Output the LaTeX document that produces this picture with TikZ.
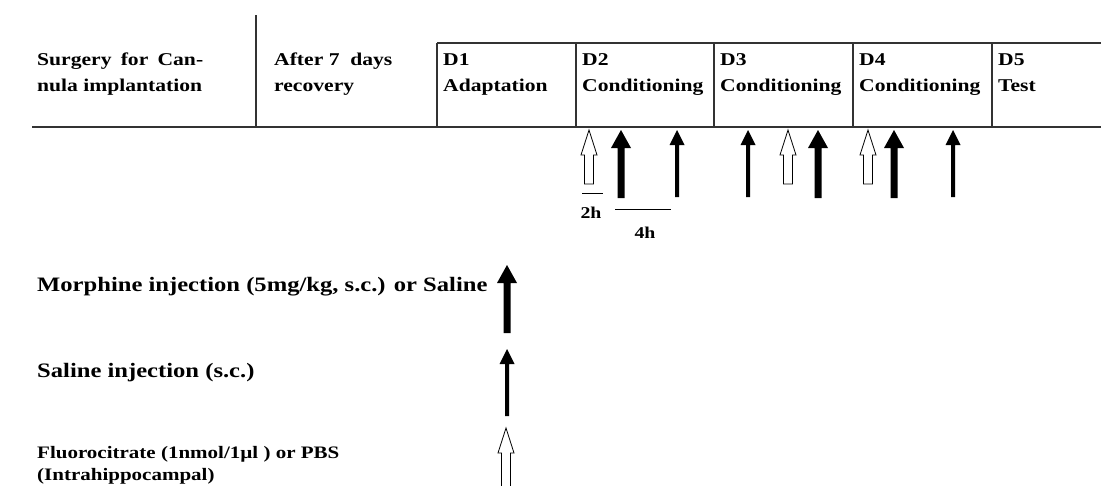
\documentclass[tikz,border=0pt]{standalone}
\usepackage{fontspec}
\setmainfont{Liberation Serif}[FakeStretch=1.2]
\begin{document}
\begin{tikzpicture}[x=1pt,y=-1pt,
  lbl/.style={inner sep=0pt, anchor=base west, font=\bfseries\fontsize{18}{21}\selectfont},
  big/.style={inner sep=0pt, anchor=base west, font=\bfseries\fontsize{20.5}{24}\selectfont},
  sml/.style={inner sep=0pt, anchor=base west, font=\bfseries\fontsize{17.5}{21}\selectfont},
  hl/.style={inner sep=0pt, anchor=base, font=\bfseries\fontsize{16.5}{20}\selectfont},
  rule/.style={line width=1.2pt, draw=black!80},
  tick/.style={line width=1pt, draw=black},
  thickarrow/.pic={\fill[black] (0,0) -- (10,18) -- (3.5,18) -- (3.5,68) -- (-3.5,68) -- (-3.5,18) -- (-10,18) -- cycle;},
  thinarrow/.pic={\fill[black] (0,0) -- (7.5,15) -- (2,15) -- (2,67) -- (-2,67) -- (-2,15) -- (-7.5,15) -- cycle;},
  openarrow/.pic={\draw[line width=0.8pt, fill=white] (0,0) -- (8,25) -- (4.5,25) -- (4.5,54) -- (-4.5,54) -- (-4.5,25) -- (-8,25) -- cycle;},
  openarrowlong/.pic={\draw[line width=0.8pt, fill=white] (0,0) -- (8,25) -- (4.5,25) -- (4.5,60) -- (-4.5,60) -- (-4.5,25) -- (-8,25) -- cycle;}
]
\useasboundingbox (0,0) rectangle (1101,485);

% frame lines
\coordinate (hl0) at (32,127);
\coordinate (hl1) at (1101,127);
\coordinate (bt0) at (437,43);
\coordinate (bt1) at (1101,43);
\draw[rule] (hl0) -- (hl1);
\draw[rule] (bt0) -- (bt1);
\coordinate (v0t) at (256,15);  \coordinate (v0b) at (256,127);
\draw[rule] (v0t) -- (v0b);
\foreach \x in {437,576,714,853,992}{
  \draw[rule] (\x,43) -- (\x,127);
}

% header texts
\node[lbl] (s1) at (37,65) {\makebox[166pt][s]{Surgery\hspace{0pt plus 1fil} for\hspace{0pt plus 1fil} Can-}};
\node[lbl] (s2) at (37,91) {nula implantation};
\node[lbl] (r1) at (274,65) {After 7~ days};
\node[lbl] (r2) at (274,91) {recovery};
\node[lbl] (d1a) at (443,65) {D1};
\node[lbl] (d1b) at (443,91) {Adaptation};
\node[lbl] (d2a) at (582,65) {D2};
\node[lbl] (d2b) at (582,91) {Conditioning};
\node[lbl] (d3a) at (720,65) {D3};
\node[lbl] (d3b) at (720,91) {Conditioning};
\node[lbl] (d4a) at (859,65) {D4};
\node[lbl] (d4b) at (859,91) {Conditioning};
\node[lbl] (d5a) at (998,65) {D5};
\node[lbl] (d5b) at (998,91) {Test};

% timeline arrows
\pic at (589,130) {openarrow};
\pic at (621,130) {thickarrow};
\pic at (677,130) {thinarrow};
\pic at (748,130) {thinarrow};
\pic at (788,130) {openarrow};
\pic at (818,130) {thickarrow};
\pic at (868,130) {openarrow};
\pic at (894,130) {thickarrow};
\pic at (953,130) {thinarrow};

% interval marks
\coordinate (a2) at (582,193); \coordinate (b2) at (603,193);
\draw[tick] (a2) -- (b2);
\node[hl] (h2) at (591,218) {2h};
\coordinate (a4) at (615,209); \coordinate (b4) at (671,209);
\draw[tick] (a4) -- (b4);
\node[hl] (h4) at (645,238) {4h};

% legend
\node[big] (lm) at (37,291) {Morphine injection (5mg/kg, s.c.) or Saline};
\pic at (507,265) {thickarrow};
\node[big] (ls) at (37,377) {Saline injection (s.c.)};
\pic at (507,349) {thinarrow};
\node[sml] (lf1) at (37,458) {Fluorocitrate (1nmol/1µl ) or PBS};
\node[sml] (lf2) at (37,480) {(Intrahippocampal)};
\pic at (506,428) {openarrowlong};
\end{tikzpicture}
\end{document}
